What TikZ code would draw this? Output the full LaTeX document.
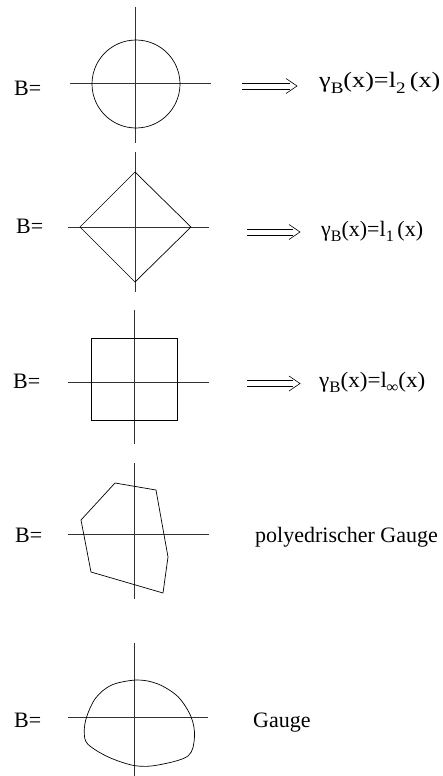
\documentclass[tikz,border=0pt]{standalone}
\usepackage{fontspec}
\usepackage{graphicx}
\setmainfont{Liberation Serif}
\newcommand{\mysub}[1]{\raisebox{-5.5pt}{\fontsize{16}{16}\selectfont #1}}
\begin{document}
\begin{tikzpicture}[x=1pt,y=-1pt,
  axis/.style={line width=0.7pt,black!80},
  shapeline/.style={line width=0.7pt,black},
  arrline/.style={line width=0.6pt,black},
  lab/.style={anchor=base west,inner sep=0pt,font=\fontsize{22}{22}\selectfont},
  res/.style={anchor=base west,inner sep=0pt,font=\fontsize{22}{22}\selectfont}]
\useasboundingbox (0,0) rectangle (443,776);
% ---------- panel 1: circle
\coordinate (v1t) at (135,7); \coordinate (v1b) at (135,143);
\coordinate (h1l) at (70,83); \coordinate (h1r) at (211,83);
\draw[axis] (v1t) -- (v1b);
\draw[axis] (h1l) -- (h1r);
\coordinate (c1) at (136,84);
\draw[shapeline] (c1) circle[radius=44];
\node[lab] (b1) at (14,95) {B=};
\coordinate (a1s) at (242,86); \coordinate (a1e) at (297,86);
\draw[arrline] ([yshift=-3.2]a1s) -- ([xshift=-7,yshift=-3.2]a1e);
\draw[arrline] ([yshift=3.2]a1s) -- ([xshift=-7,yshift=3.2]a1e);
\draw[arrline] ([xshift=-11,yshift=-7.5]a1e) -- (a1e) -- ([xshift=-11,yshift=7.5]a1e);
\node[res] (r1) at (319,88) {\scalebox{1.19}[1]{γ\mysub{B}(x)=l\mysub{2}\,(x)}};
% ---------- panel 2: diamond
\coordinate (v2t) at (135,152); \coordinate (v2b) at (135,292);
\coordinate (h2l) at (68,227); \coordinate (h2r) at (209,227);
\draw[axis] (v2t) -- (v2b);
\draw[axis] (h2l) -- (h2r);
\coordinate (d2l) at (80,227); \coordinate (d2t) at (135,172);
\coordinate (d2r) at (191,227); \coordinate (d2b) at (135,282);
\draw[shapeline] (d2l) -- (d2t) -- (d2r) -- (d2b) -- cycle;
\node[lab] (b2) at (16,233) {B=};
\coordinate (a2s) at (247,232); \coordinate (a2e) at (300,232);
\draw[arrline] ([yshift=-3.2]a2s) -- ([xshift=-7,yshift=-3.2]a2e);
\draw[arrline] ([yshift=3.2]a2s) -- ([xshift=-7,yshift=3.2]a2e);
\draw[arrline] ([xshift=-11,yshift=-7.5]a2e) -- (a2e) -- ([xshift=-11,yshift=7.5]a2e);
\node[res] (r2) at (321,236) {γ\mysub{B}(x)=l\mysub{1}\,(x)};
% ---------- panel 3: square
\coordinate (v3t) at (134,310); \coordinate (v3b) at (134,444);
\coordinate (h3l) at (68,382); \coordinate (h3r) at (209,382);
\draw[axis] (v3t) -- (v3b);
\draw[axis] (h3l) -- (h3r);
\coordinate (s3a) at (91,338); \coordinate (s3b) at (177,420);
\draw[shapeline] (s3a) rectangle (s3b);
\node[lab] (b3) at (13,388) {B=};
\coordinate (a3s) at (247,383.5); \coordinate (a3e) at (300,383.5);
\draw[arrline] ([yshift=-3]a3s) -- ([xshift=-7,yshift=-3]a3e);
\draw[arrline] ([yshift=3]a3s) -- ([xshift=-7,yshift=3]a3e);
\draw[arrline] ([xshift=-11,yshift=-7.5]a3e) -- (a3e) -- ([xshift=-11,yshift=7.5]a3e);
\node[res] (r3) at (319,387) {\scalebox{1.05}[1]{γ\mysub{B}(x)=l\kern-0.5pt\mysub{∞}(x)}};
% ---------- panel 4: polygon
\coordinate (v4t) at (134,463); \coordinate (v4b) at (134,599);
\coordinate (h4l) at (68,534); \coordinate (h4r) at (209,534);
\draw[axis] (v4t) -- (v4b);
\draw[axis] (h4l) -- (h4r);
\coordinate (p1) at (115,483); \coordinate (p2) at (156,490);
\coordinate (p3) at (168,557); \coordinate (p4) at (163,593);
\coordinate (p5) at (91,572); \coordinate (p6) at (81,520);
\draw[shapeline] (p1) -- (p2) -- (p3) -- (p4) -- (p5) -- (p6) -- cycle;
\node[lab] (b4) at (15,542) {B=};
\node[res] (r4) at (255,542) {polyedrischer Gauge};
% ---------- panel 5: general gauge
\coordinate (v5t) at (134,643); \coordinate (v5b) at (134,776);
\coordinate (h5l) at (68,717); \coordinate (h5r) at (208,717);
\draw[axis] (v5t) -- (v5b);
\draw[axis] (h5l) -- (h5r);
\draw[shapeline] plot[smooth cycle, tension=0.55] coordinates {
  (137,680) (158,684) (178,696.7) (191,716.7) (194.5,736.7) (188,756)
  (158,765) (135,765.7) (108.3,757) (87.7,744) (84.3,731.7) (86.7,716.7)
  (95.7,698) (111.7,685)};
\node[lab] (b5) at (14,727) {B=};
\node[res] (r5) at (253,727) {Gauge};
\end{tikzpicture}
\end{document}
